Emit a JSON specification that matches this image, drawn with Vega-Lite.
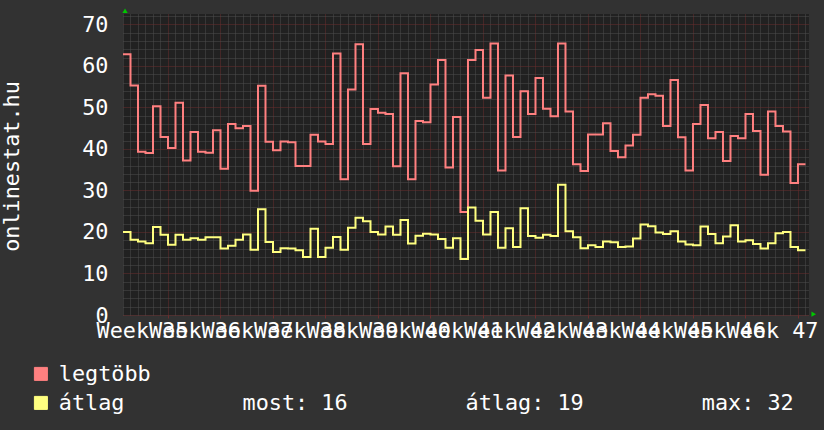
{
  "$schema": "https://vega.github.io/schema/vega-lite/v6.json",
  "width": 686,
  "height": 301,
  "autosize": {"type": "none"},
  "padding": {"left": 123, "top": 14, "right": 15, "bottom": 115},
  "background": "#323232",
  "config": {
    "view": {"fill": "#212121", "stroke": null},
    "font": "DejaVu Sans Mono",
    "axis": {"labelFont": "DejaVu Sans Mono", "titleFont": "DejaVu Sans Mono", "labelColor": "#ffffff", "titleColor": "#ffffff", "domain": false}
  },
  "layer": [
    {
      "data": {"values": [
        {"d": -5.73, "v": 73.3, "shape": "triangle-up"},
        {"d": 86.1, "v": 0.2, "shape": "triangle-right"}
      ]},
      "mark": {"type": "point", "filled": true, "size": 28, "color": "#00c800", "opacity": 1},
      "encoding": {
        "x": {"field": "d", "type": "quantitative", "scale": {"domain": [-6, 85.47], "nice": false, "zero": false},
          "axis": {"orient": "bottom", "values": [-6,-5,-4,-3,-2,-1,1,2,3,4,5,6,8,9,10,11,12,13,15,16,17,18,19,20,22,23,24,25,26,27,29,30,31,32,33,34,36,37,38,39,40,41,43,44,45,46,47,48,50,51,52,53,54,55,57,58,59,60,61,62,64,65,66,67,68,69,71,72,73,74,75,76,78,79,80,81,82,83,85],
            "labels": false, "ticks": false, "grid": true, "gridColor": "#4e4e4e", "gridDash": [1, 1], "title": null}},
        "y": {"field": "v", "type": "quantitative", "scale": {"domain": [0, 72.5], "nice": false},
          "axis": {"orient": "left", "values": [2,4,6,8,12,14,16,18,22,24,26,28,32,34,36,38,42,44,46,48,52,54,56,58,62,64,66,68,72],
            "labels": false, "ticks": false, "grid": true, "gridColor": "#4e4e4e", "gridDash": [1, 1], "title": null}},
        "shape": {"field": "shape", "type": "nominal", "scale": null, "legend": null}
      }
    },
    {
      "data": {"values": [
        {"d": -6, "legtöbb": 62.8, "átlag": 20.0},
        {"d": -5, "legtöbb": 55.3, "átlag": 18.1},
        {"d": -4, "legtöbb": 39.3, "átlag": 17.7},
        {"d": -3, "legtöbb": 39.0, "átlag": 17.3},
        {"d": -2, "legtöbb": 50.3, "átlag": 21.2},
        {"d": -1, "legtöbb": 42.9, "átlag": 19.3},
        {"d": 0, "legtöbb": 40.2, "átlag": 16.9},
        {"d": 1, "legtöbb": 51.1, "átlag": 19.3},
        {"d": 2, "legtöbb": 37.2, "átlag": 18.1},
        {"d": 3, "legtöbb": 44.1, "átlag": 18.5},
        {"d": 4, "legtöbb": 39.3, "átlag": 18.1},
        {"d": 5, "legtöbb": 39.1, "átlag": 18.7},
        {"d": 6, "legtöbb": 44.5, "átlag": 18.7},
        {"d": 7, "legtöbb": 35.2, "átlag": 16.0},
        {"d": 8, "legtöbb": 46.0, "átlag": 16.7},
        {"d": 9, "legtöbb": 45.0, "átlag": 18.1},
        {"d": 10, "legtöbb": 45.5, "átlag": 19.4},
        {"d": 11, "legtöbb": 29.9, "átlag": 15.7},
        {"d": 12, "legtöbb": 55.2, "átlag": 25.5},
        {"d": 13, "legtöbb": 41.7, "átlag": 17.6},
        {"d": 14, "legtöbb": 39.7, "átlag": 15.2},
        {"d": 15, "legtöbb": 41.8, "átlag": 16.1},
        {"d": 16, "legtöbb": 41.6, "átlag": 16.0},
        {"d": 17, "legtöbb": 35.9, "átlag": 15.6},
        {"d": 18, "legtöbb": 35.9, "átlag": 14.0},
        {"d": 19, "legtöbb": 43.4, "átlag": 20.8},
        {"d": 20, "legtöbb": 41.8, "átlag": 14.0},
        {"d": 21, "legtöbb": 41.2, "átlag": 16.2},
        {"d": 22, "legtöbb": 63.0, "átlag": 18.8},
        {"d": 23, "legtöbb": 32.7, "átlag": 15.7},
        {"d": 24, "legtöbb": 54.3, "átlag": 21.0},
        {"d": 25, "legtöbb": 65.2, "átlag": 23.4},
        {"d": 26, "legtöbb": 41.2, "átlag": 22.6},
        {"d": 27, "legtöbb": 49.6, "átlag": 20.0},
        {"d": 28, "legtöbb": 48.7, "átlag": 19.4},
        {"d": 29, "legtöbb": 48.4, "átlag": 21.3},
        {"d": 30, "legtöbb": 35.8, "átlag": 19.3},
        {"d": 31, "legtöbb": 58.2, "átlag": 22.9},
        {"d": 32, "legtöbb": 32.7, "átlag": 17.2},
        {"d": 33, "legtöbb": 46.7, "átlag": 19.1},
        {"d": 34, "legtöbb": 46.4, "átlag": 19.6},
        {"d": 35, "legtöbb": 55.5, "átlag": 19.4},
        {"d": 36, "legtöbb": 61.4, "átlag": 18.3},
        {"d": 37, "legtöbb": 35.5, "átlag": 16.2},
        {"d": 38, "legtöbb": 47.7, "átlag": 18.5},
        {"d": 39, "legtöbb": 24.8, "átlag": 13.5},
        {"d": 40, "legtöbb": 61.4, "átlag": 25.9},
        {"d": 41, "legtöbb": 63.8, "átlag": 22.7},
        {"d": 42, "legtöbb": 52.3, "átlag": 19.4},
        {"d": 43, "legtöbb": 65.4, "átlag": 24.8},
        {"d": 44, "legtöbb": 34.8, "átlag": 16.2},
        {"d": 45, "legtöbb": 57.7, "átlag": 20.9},
        {"d": 46, "legtöbb": 42.9, "átlag": 16.4},
        {"d": 47, "legtöbb": 53.9, "átlag": 25.7},
        {"d": 48, "legtöbb": 48.4, "átlag": 19.0},
        {"d": 49, "legtöbb": 57.1, "átlag": 18.6},
        {"d": 50, "legtöbb": 49.7, "átlag": 19.3},
        {"d": 51, "legtöbb": 47.9, "átlag": 19.0},
        {"d": 52, "legtöbb": 65.4, "átlag": 31.4},
        {"d": 53, "legtöbb": 49.0, "átlag": 20.2},
        {"d": 54, "legtöbb": 36.3, "átlag": 18.7},
        {"d": 55, "legtöbb": 34.7, "átlag": 16.1},
        {"d": 56, "legtöbb": 43.5, "átlag": 16.8},
        {"d": 57, "legtöbb": 43.5, "átlag": 16.4},
        {"d": 58, "legtöbb": 46.2, "átlag": 17.7},
        {"d": 59, "legtöbb": 39.5, "átlag": 17.5},
        {"d": 60, "legtöbb": 38.0, "átlag": 16.4},
        {"d": 61, "legtöbb": 40.8, "átlag": 16.5},
        {"d": 62, "legtöbb": 43.4, "átlag": 18.4},
        {"d": 63, "legtöbb": 52.3, "átlag": 21.8},
        {"d": 64, "legtöbb": 53.2, "átlag": 21.4},
        {"d": 65, "legtöbb": 52.8, "átlag": 19.9},
        {"d": 66, "legtöbb": 45.5, "átlag": 19.5},
        {"d": 67, "legtöbb": 56.6, "átlag": 20.2},
        {"d": 68, "legtöbb": 42.8, "átlag": 17.7},
        {"d": 69, "legtöbb": 34.8, "átlag": 17.0},
        {"d": 70, "legtöbb": 46.0, "átlag": 16.8},
        {"d": 71, "legtöbb": 50.6, "átlag": 21.3},
        {"d": 72, "legtöbb": 42.6, "átlag": 19.5},
        {"d": 73, "legtöbb": 44.1, "átlag": 17.3},
        {"d": 74, "legtöbb": 37.1, "átlag": 18.9},
        {"d": 75, "legtöbb": 43.1, "átlag": 21.6},
        {"d": 76, "legtöbb": 42.6, "átlag": 17.7},
        {"d": 77, "legtöbb": 48.4, "átlag": 18.0},
        {"d": 78, "legtöbb": 44.3, "átlag": 17.1},
        {"d": 79, "legtöbb": 33.8, "átlag": 16.0},
        {"d": 80, "legtöbb": 49.0, "átlag": 17.3},
        {"d": 81, "legtöbb": 45.5, "átlag": 19.7},
        {"d": 82, "legtöbb": 44.2, "átlag": 20.0},
        {"d": 83, "legtöbb": 31.8, "átlag": 16.4},
        {"d": 84, "legtöbb": 36.3, "átlag": 15.6},
        {"d": 85, "legtöbb": 36.3, "átlag": 15.6}
      ]},
      "transform": [{"fold": ["legtöbb", "átlag"], "as": ["s", "v"]}],
      "mark": {"type": "line", "interpolate": "step-after", "strokeWidth": 2},
      "encoding": {
        "x": {"field": "d", "type": "quantitative", "scale": {"domain": [-6, 85.47], "nice": false, "zero": false},
          "axis": {"orient": "bottom", "values": [0, 7, 14, 21, 28, 35, 42, 49, 56, 63, 70, 77, 84],
            "labelExpr": "'Week ' + (35 + datum.value / 7)", "labelOffset": -26, "labelOverlap": false, "labelFlush": false, "labelBound": false,
            "labelFontSize": 21.8, "labelPadding": 2, "labelBaseline": "top",
            "grid": true, "gridColor": "#6a2e2e", "gridDash": [1, 1], "ticks": true, "tickColor": "#6a2e2e", "tickSize": 3, "title": null}},
        "y": {"field": "v", "type": "quantitative", "scale": {"domain": [0, 72.5], "nice": false},
          "axis": {"orient": "left", "values": [0, 10, 20, 30, 40, 50, 60, 70], "labelFontSize": 21.8, "labelPadding": 15, "ticks": false,
            "grid": true, "gridColor": "#6a2e2e", "gridDash": [1, 1],
            "title": "onlinestat.hu", "titleFontSize": 21.8, "titleFontWeight": "normal", "titleAngle": -90,
            "titleX": -105, "titleY": 152, "titleAlign": "center", "titleBaseline": "alphabetic"}},
        "color": {"field": "s", "type": "nominal",
          "scale": {"domain": ["legtöbb", "átlag"], "range": ["#ff8080", "#ffff80"]},
          "legend": {"orient": "none", "legendX": -93, "legendY": 349, "title": null, "direction": "vertical",
            "symbolType": "square", "symbolSize": 169, "symbolStrokeWidth": 1,
            "labelFont": "DejaVu Sans Mono", "labelFontSize": 21.8, "labelColor": "#ffffff", "labelLimit": 900, "labelOffset": 7, "rowPadding": 6,
            "labelExpr": "datum.label == 'átlag' ? 'átlag\u00a0\u00a0\u00a0\u00a0\u00a0\u00a0\u00a0\u00a0\u00a0most: 16\u00a0\u00a0\u00a0\u00a0\u00a0\u00a0\u00a0\u00a0\u00a0átlag: 19\u00a0\u00a0\u00a0\u00a0\u00a0\u00a0\u00a0\u00a0\u00a0max: 32' : datum.label",
            "encode": {"symbols": {"update": {"fill": {"scale": "color", "field": "value"}, "stroke": {"value": "#000000"}, "strokeWidth": {"value": 1}, "opacity": {"value": 1}}}}}}
      }
    }
  ],
  "resolve": {"axis": {"x": "independent", "y": "independent"}}
}
